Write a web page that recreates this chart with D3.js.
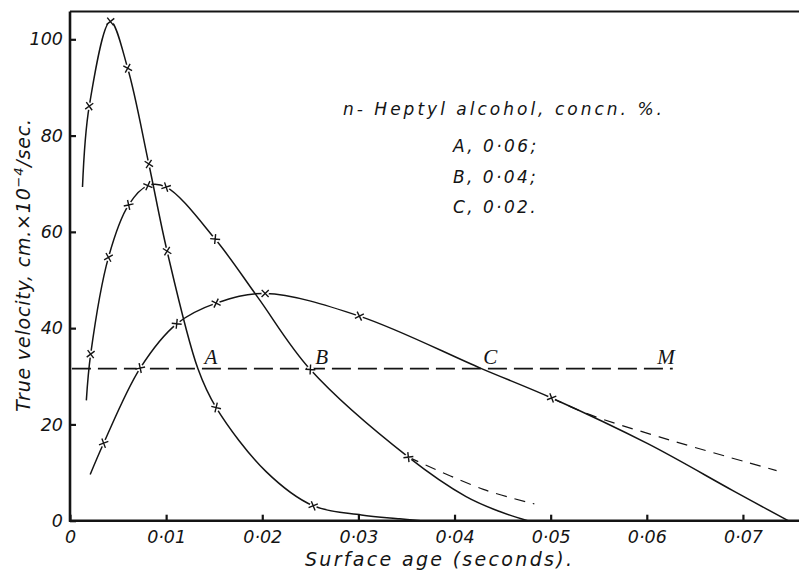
<!DOCTYPE html>
<html>
<head>
<meta charset="utf-8">
<script src="https://cdn.jsdelivr.net/npm/d3@7"></script>
<style>
body { margin: 0; background: #fff; }
svg { display: block; }
</style>
</head>
<body>
<div id="chart"></div>
<script>
const svgWidth = 799
const svgHeight = 571

// tick values
const xTicks = [0, 0.01, 0.02, 0.03, 0.04, 0.05, 0.06, 0.07]
const yTicks = [0, 20, 40, 60, 80, 100]

// curve A, concn 0.06 %
const curveA = [[0.0013, 69.3], [0.0020, 86.1], [0.0042, 103.7], [0.0060, 94.0], [0.0082, 74.1],
    [0.0101, 56.0], [0.0133, 31.6], [0.0152, 23.5], [0.0204, 10.2], [0.0253, 3.1],
    [0.0303, 1.2], [0.0343, 0.4], [0.0365, 0]]
const marksA = [[0.0020, 86.1], [0.0042, 103.7], [0.0060, 94.0], [0.0082, 74.1],
    [0.0101, 56.0], [0.0152, 23.5], [0.0253, 3.1]]

// curve B, concn 0.04 %
const curveB = [[0.0017, 25.0], [0.00215, 34.6], [0.0040, 54.7], [0.0061, 65.6], [0.0081, 69.6],
    [0.0100, 69.3], [0.0151, 58.5], [0.0195, 46.5], [0.0250, 31.4], [0.0352, 13.2],
    [0.0412, 5.0], [0.0447, 1.9], [0.0476, 0]]
const dashB = [[0.0352, 13.2], [0.0430, 6.5], [0.0483, 3.5]]
const marksB = [[0.00215, 34.6], [0.0040, 54.7], [0.0061, 65.6], [0.0081, 69.6],
    [0.0100, 69.3], [0.0151, 58.5], [0.0250, 31.4], [0.0352, 13.2]]

// curve C, concn 0.02 %
const curveC = [[0.0021, 9.6], [0.0035, 16.1], [0.0073, 31.7], [0.0111, 40.9], [0.0152, 45.2],
    [0.0203, 47.2], [0.0301, 42.5], [0.0428, 31.6], [0.0501, 25.5],
    [0.0601, 16.0], [0.0690, 6.2], [0.0747, 0]]
const dashC = [[0.0501, 25.5], [0.0537, 22.3], [0.0613, 17.4], [0.0735, 10.4]]
const marksC = [[0.0035, 16.1], [0.0073, 31.7], [0.0111, 40.9], [0.0152, 45.2],
    [0.0203, 47.2], [0.0301, 42.5], [0.0501, 25.5]]

// horizontal line M
const levelM = 31.6
const spanM = [0.0002, 0.0627]
const lineLabels = ["A", "B", "C", "M"]
const lineLabelX = [0.0140, 0.0255, 0.0430, 0.0611]

const legendTitle = "n- Heptyl alcohol, concn. %."
const concLabels = ["A, 0·06;", "B, 0·04;", "C, 0·02."]

const ink = "#141414"

const svg = d3.select("#chart").append("svg")
    .attr("width", svgWidth)
    .attr("height", svgHeight)

const x = d3.scaleLinear().domain([0, 0.075]).range([70, 791])
const y = d3.scaleLinear().domain([0, 100]).range([520.7, 39.3])

const fmt = d => d === 0 ? "0" : d3.format(".2f")(d).replace(".", "·")

const xAxisG = svg.append("g")
    .attr("transform", `translate(0, ${y(0)})`)
    .call(d3.axisBottom(x).tickValues(xTicks).tickFormat(fmt)
        .tickSizeInner(-6).tickSizeOuter(0).tickPadding(10))

const yAxisG = svg.append("g")
    .attr("transform", `translate(${x(0)}, 0)`)
    .call(d3.axisLeft(y).tickValues(yTicks).tickFormat(d => d)
        .tickSizeInner(-6).tickSizeOuter(0).tickPadding(7))

svg.selectAll(".domain").remove()
svg.selectAll(".tick line").attr("stroke", ink).attr("stroke-width", 2.2)
svg.selectAll(".tick text")
    .attr("fill", ink)
    .attr("font-family", "DejaVu Sans")
    .attr("font-style", "italic")
    .attr("font-size", 17.5)

// frame lines
const spines = [
    [x(0), 11.5, x(0), y(0) + 1],
    [x(0) - 1, y(0), svgWidth, y(0)],
    [x(0), 11.5, svgWidth, 11.5]
]
svg.selectAll("line.spine")
    .data(spines)
    .enter()
    .append("line")
    .attr("class", "spine")
    .attr("x1", d => d[0]).attr("y1", d => d[1])
    .attr("x2", d => d[2]).attr("y2", d => d[3])
    .attr("stroke", ink)
    .attr("stroke-width", (d, i) => i === 2 ? 2 : 2.6)

const line = d3.line()
    .x(d => x(d[0]))
    .y(d => y(d[1]))
    .curve(d3.curveCatmullRom.alpha(0.5))

// M line
svg.append("line")
    .attr("x1", x(spanM[0])).attr("x2", x(spanM[1]))
    .attr("y1", y(levelM)).attr("y2", y(levelM))
    .attr("stroke", ink)
    .attr("stroke-width", 1.6)
    .attr("stroke-dasharray", "19,7")

// dashed extensions
svg.selectAll("path.ext")
    .data([dashB, dashC])
    .enter()
    .append("path")
    .attr("class", "ext")
    .attr("d", line)
    .attr("fill", "none")
    .attr("stroke", ink)
    .attr("stroke-width", 1.2)
    .attr("stroke-dasharray", "11,8")

// solid curves
const curvePaths = svg.selectAll("path.curve")
    .data([curveA, curveB, curveC])
    .enter()
    .append("path")
    .attr("class", "curve")
    .attr("d", line)
    .attr("fill", "none")
    .attr("stroke", ink)
    .attr("stroke-width", 1.5)

// markers: small crosses set at 45 deg to the local curve direction
const markerData = []
const allMarks = [marksA, marksB, marksC]
curvePaths.each(function(d, k) {
    const len = this.getTotalLength()
    const samples = d3.range(0, len, 1).map(l => this.getPointAtLength(l))
    allMarks[k].forEach(m => {
        const px = x(m[0]), py = y(m[1])
        const i = d3.minIndex(samples, s => (s.x - px) ** 2 + (s.y - py) ** 2)
        const a = samples[Math.max(i - 3, 0)]
        const b = samples[Math.min(i + 3, samples.length - 1)]
        const ang = Math.atan2(b.y - a.y, b.x - a.x) * 180 / Math.PI
        markerData.push({ px, py, ang })
    })
})

const markG = svg.selectAll("g.mark")
    .data(markerData)
    .enter()
    .append("g")
    .attr("class", "mark")
    .attr("transform", d => `translate(${d.px}, ${d.py}) rotate(${d.ang + 45})`)

markG.append("circle")
    .attr("r", 3.5)
    .attr("fill", "#fff")

markG.append("path")
    .attr("d", "M-5,0L5,0M0,-5L0,5")
    .attr("stroke", ink)
    .attr("stroke-width", 1.4)

// labels on the M line
svg.selectAll("text.mlabel")
    .data(lineLabels)
    .enter()
    .append("text")
    .attr("class", "mlabel")
    .attr("x", (d, i) => x(lineLabelX[i]))
    .attr("y", y(levelM) - 5)
    .attr("font-family", "Liberation Serif")
    .attr("font-style", "italic")
    .attr("font-size", 21)
    .attr("fill", ink)
    .text(d => d)

// legend
const textStyle = sel => sel
    .attr("font-family", "DejaVu Sans")
    .attr("font-style", "italic")
    .attr("fill", ink)

svg.append("text")
    .attr("x", 343).attr("y", 115)
    .attr("font-size", 17)
    .attr("textLength", 319)
    .attr("lengthAdjust", "spacing")
    .call(textStyle)
    .text(legendTitle)

svg.selectAll("text.conc")
    .data(concLabels)
    .enter()
    .append("text")
    .attr("class", "conc")
    .attr("x", 453)
    .attr("y", (d, i) => 152 + i * 30.5)
    .attr("font-size", 17)
    .attr("letter-spacing", 2.4)
    .call(textStyle)
    .text(d => d)

// axis titles
svg.append("text")
    .attr("x", 305).attr("y", 566)
    .attr("font-size", 19)
    .attr("textLength", 267)
    .attr("lengthAdjust", "spacing")
    .call(textStyle)
    .text("Surface age (seconds).")

const yTitle = svg.append("text")
    .attr("transform", "translate(30, 265) rotate(-90)")
    .attr("text-anchor", "middle")
    .attr("font-size", 19)
    .attr("letter-spacing", 0.8)
    .call(textStyle)

yTitle.append("tspan").text("True velocity, cm.×10")
yTitle.append("tspan").attr("dy", -7).attr("font-size", 13).text("−4")
yTitle.append("tspan").attr("dy", 7).text("/sec.")
</script>
</body>
</html>
